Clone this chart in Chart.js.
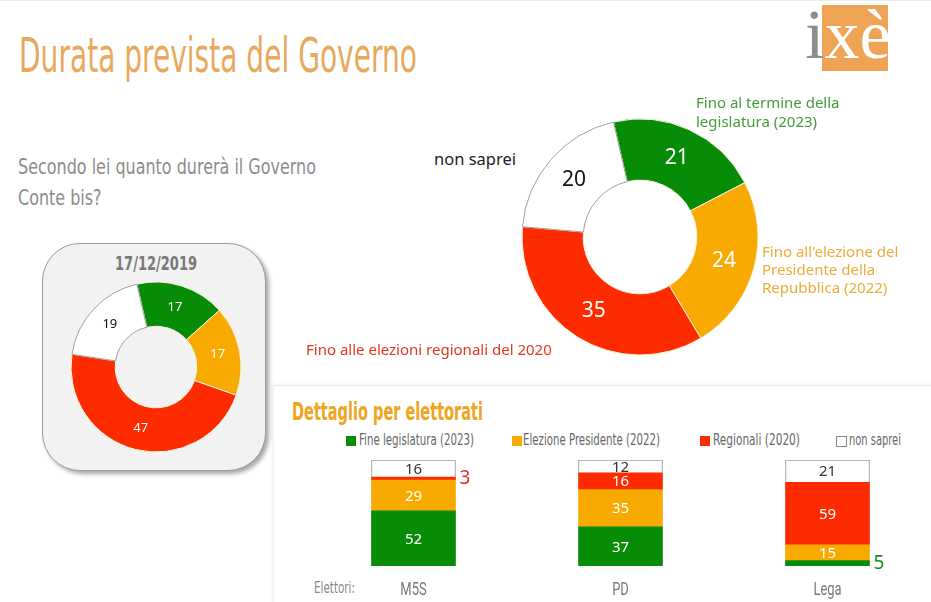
<!DOCTYPE html>
<html lang="it">
<head>
<meta charset="utf-8">
<script src="https://cdn.jsdelivr.net/npm/chart.js@4.4.1/dist/chart.umd.min.js"></script>
<style>
  html, body { margin: 0; padding: 0; background: #fff; }
  body { width: 931px; height: 602px; position: relative; overflow: hidden; font-family: "Noto Sans", sans-serif; }
  .abs { position: absolute; white-space: nowrap; }
  .narrow { font-family: "Liberation Sans Narrow", "DejaVu Sans Condensed", Roboto, sans-serif; font-stretch: condensed; transform-origin: 0 0; line-height: 1; }
  #topline { left: 0; top: 0; width: 931px; height: 1px; background: #ececec; }
  #title { left: 19px; top: 31px; font-size: 48px; color: #E8A95C; }
  #question { left: 18px; top: 151px; font-size: 22px; line-height: 31px; color: #8c8c8c; }
  #logoBox { left: 822px; top: 5px; width: 66px; height: 66px; background: #EFA354; }
  #logoTxt { left: 805px; top: 0px; font-family: "Liberation Serif", serif; font-size: 70px; line-height: 1; }
  #oldBox { left: 42px; top: 243px; width: 222px; height: 226px; border-radius: 38px; background: #f2f2f2; border: 1px solid #9a9a9a; box-shadow: 3px 3px 4px rgba(0,0,0,0.35); }
  #oldDate { left: 115px; top: 253px; font-size: 20px; font-weight: bold; color: #7a7a7a; }
  #panel { left: 273px; top: 385px; width: 670px; height: 230px; border: 1px solid #ededed; box-shadow: -1px -1px 3px rgba(0,0,0,0.05); }
  #detTitle { left: 292px; top: 400px; font-size: 24px; font-weight: bold; color: #F0A51E; }
  .leg { top: 433px; font-size: 15px; color: #666; }
  .sq { top: 436px; width: 10px; height: 10px; }
  #elettori { left: 314px; top: 580px; font-size: 16px; color: #888; }
  .lab { font-size: 15px; line-height: 19px; }
  canvas { position: absolute; }
</style>
</head>
<body>
<div id="topline" class="abs"></div>
<div id="title" class="abs narrow" data-w="398">Durata prevista del Governo</div>
<div id="logoBox" class="abs"></div>
<div id="logoTxt" class="abs"><span style="color:#8d8d8d">i</span><span style="color:#fff">xè</span></div>
<div id="question" class="abs narrow" data-w="298">Secondo lei quanto durerà il Governo<br>Conte bis?</div>

<div id="oldBox" class="abs"></div>
<div id="oldDate" class="abs narrow" data-w="82">17/12/2019</div>
<canvas id="chartOld" width="180" height="180" style="left:66px;top:277px;width:180px;height:180px"></canvas>

<canvas id="chartNow" width="246" height="246" style="left:517px;top:114px;width:246px;height:246px"></canvas>
<div class="abs lab" style="left:696px;top:93px;color:#469A3C">Fino al termine della<br>legislatura (2023)</div>
<div class="abs" style="left:434px;top:149px;font-size:16.5px;line-height:20px;color:#222">non saprei</div>
<div class="abs lab" style="left:762px;top:242px;line-height:18px;color:#EFAA3A">Fino all'elezione del<br>Presidente della<br>Repubblica (2022)</div>
<div class="abs lab" style="left:306px;top:340px;color:#E2381E">Fino alle elezioni regionali del 2020</div>

<div id="panel" class="abs"></div>
<div id="detTitle" class="abs narrow" data-w="191">Dettaglio per elettorati</div>
<div class="abs sq" style="left:346px;background:#078C07"></div>
<div class="abs narrow leg" style="left:359px" data-w="115">Fine legislatura (2023)</div>
<div class="abs sq" style="left:512px;background:#F9AA00"></div>
<div class="abs narrow leg" style="left:523px" data-w="137">Elezione Presidente (2022)</div>
<div class="abs sq" style="left:700px;background:#FE2B00"></div>
<div class="abs narrow leg" style="left:713px" data-w="87">Regionali (2020)</div>
<div class="abs sq" style="left:836px;width:9px;height:9px;background:#fff;border:1px solid #888"></div>
<div class="abs narrow leg" style="left:849px" data-w="52">non saprei</div>
<div id="elettori" class="abs narrow" data-w="41">Elettori:</div>
<canvas id="chartBars" width="621" height="152" style="left:310px;top:450px;width:621px;height:152px"></canvas>

<script>
// squeeze condensed texts to the reference widths
document.querySelectorAll('[data-w]').forEach(el => {
  const w = el.getBoundingClientRect().width;
  el.style.transform = `scaleX(${(+el.dataset.w / w).toFixed(3)})`;
});

const answerLabels = ['Fine legislatura (2023)', 'Elezione Presidente (2022)', 'Regionali (2020)', 'non saprei'];
const answerColors = ['#078C07', '#F9AA00', '#FE2B00', '#FFFFFF'];

// 17/12/2019
const oldValues = [17, 17, 47, 19];
// current survey
const nowValues = [21, 24, 35, 20];

// detail by electorate
const parties = ['M5S', 'PD', 'Lega'];
const legislatura = [52, 37, 5];
const presidente = [29, 35, 15];
const regionali = [3, 16, 59];
const nonSaprei = [16, 12, 21];

const donutLabels = {
  id: 'donutLabels',
  afterDatasetsDraw(chart, args, opts) {
    const ctx = chart.ctx;
    const meta = chart.getDatasetMeta(0);
    ctx.save();
    ctx.font = opts.font;
    ctx.textAlign = 'center';
    ctx.textBaseline = 'middle';
    meta.data.forEach((arc, i) => {
      const p = arc.tooltipPosition();
      ctx.fillStyle = opts.colors[i];
      ctx.fillText(chart.data.datasets[0].data[i], p.x, p.y);
    });
    ctx.restore();
  }
};

function donut(id, values, radius, cutout, font) {
  return new Chart(document.getElementById(id), {
    type: 'doughnut',
    data: {
      labels: answerLabels,
      datasets: [{
        data: values,
        backgroundColor: answerColors,
        borderColor: ['#f4f1d8', '#f4f1d8', '#f4f1d8', '#a0a0a0'],
        borderWidth: 1,
        hoverOffset: 0
      }]
    },
    options: {
      responsive: false,
      animation: false,
      radius: radius,
      cutout: cutout,
      rotation: -13,
      plugins: {
        legend: { display: false },
        tooltip: { enabled: false },
        donutLabels: { font: font, colors: ['#fff', '#fff', '#fff', '#111'] }
      }
    },
    plugins: [donutLabels]
  });
}

const chartOld = donut('chartOld', oldValues, 85, 43, '13px "Noto Sans"');
const chartNow = donut('chartNow', nowValues, 118, 59, '21px "Noto Sans"');

const barLabels = {
  id: 'barLabels',
  afterDatasetsDraw(chart) {
    const ctx = chart.ctx;
    ctx.save();
    ctx.textBaseline = 'middle';
    chart.data.datasets.forEach((ds, di) => {
      chart.getDatasetMeta(di).data.forEach((bar, i) => {
        const v = ds.data[i];
        const cy = (bar.y + bar.base) / 2;
        if (v < 6) {
          ctx.font = '19px "Noto Sans"';
          ctx.textAlign = 'left';
          ctx.fillStyle = ds.outsideColor;
          ctx.fillText(v, bar.x + bar.width / 2 + 4, cy);
        } else {
          ctx.font = '15px "Noto Sans"';
          ctx.textAlign = 'center';
          ctx.fillStyle = ds.textColor;
          ctx.fillText(v, bar.x, cy + 1);
        }
      });
    });
    // category names under the bars, squeezed to look condensed
    const x = chart.scales.x;
    ctx.font = '18px Roboto, sans-serif';
    ctx.fillStyle = '#777';
    ctx.textAlign = 'center';
    ctx.textBaseline = 'alphabetic';
    parties.forEach((p, i) => {
      ctx.save();
      ctx.translate(x.getPixelForValue(i), chart.chartArea.bottom + 29);
      ctx.scale(0.72, 1);
      ctx.fillText(p, 0, 0);
      ctx.restore();
    });
    ctx.restore();
  }
};

const chartBars = new Chart(document.getElementById('chartBars'), {
  type: 'bar',
  data: {
    labels: parties,
    datasets: [
      { label: answerLabels[0], data: legislatura, backgroundColor: '#078C07', textColor: '#fff', outsideColor: '#1E8A1E' },
      { label: answerLabels[1], data: presidente, backgroundColor: '#F9AA00', textColor: '#fff', outsideColor: '#E0A000' },
      { label: answerLabels[2], data: regionali, backgroundColor: '#FE2B00', textColor: '#fff', outsideColor: '#D8322A' },
      { label: answerLabels[3], data: nonSaprei, backgroundColor: '#fff', borderColor: '#9a9a9a', borderWidth: 1, textColor: '#333', outsideColor: '#333' }
    ]
  },
  options: {
    responsive: false,
    animation: false,
    barThickness: 84,
    layout: { padding: { top: 10, bottom: 36, left: 0, right: 0 } },
    scales: {
      x: { stacked: true, display: false },
      y: { stacked: true, display: false, min: 0, max: 100 }
    },
    plugins: {
      legend: { display: false },
      tooltip: { enabled: false }
    }
  },
  plugins: [barLabels]
});
</script>
</body>
</html>
